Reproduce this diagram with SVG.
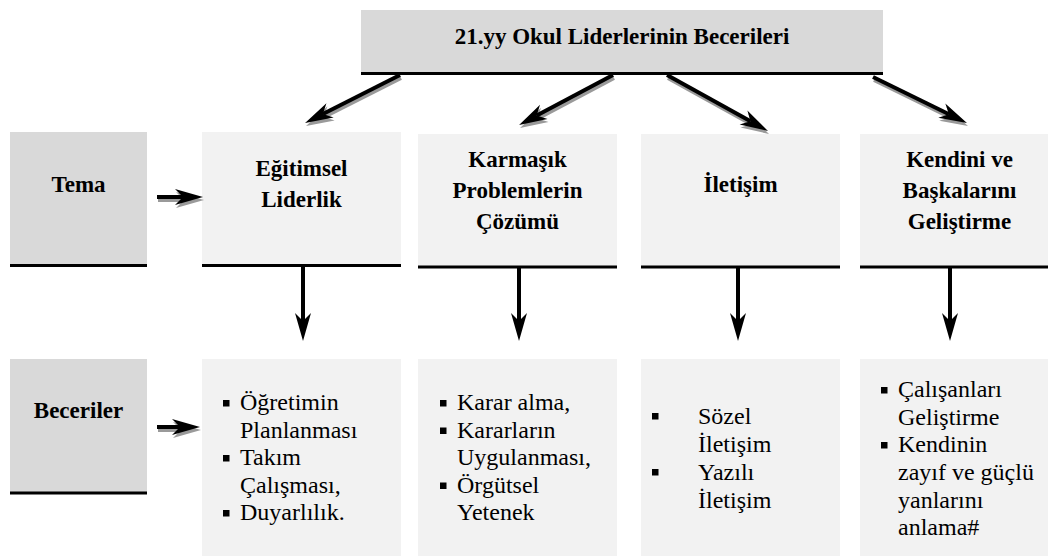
<svg xmlns="http://www.w3.org/2000/svg" width="1048" height="556" viewBox="0 0 1048 556">
  <defs>
    <style>
      .dark { fill: #d9d9d9; }
      .light { fill: #f2f2f2; }
      .rule { stroke: #000; stroke-width: 3; }
      .txt { font-family: "Liberation Serif", "Times New Roman", serif; }
      .head { font-weight: bold; font-size: 23px; fill: #000; text-anchor: middle; }
      .item { font-size: 24px; fill: #000; }
      .shaft { stroke: #000; stroke-width: 4; fill: none; marker-end: url(#tip); }
      .shadow { stroke: #9a9a9a; stroke-width: 4; fill: none; marker-end: url(#tipShadow); }
    </style>
    <marker id="tip" markerUnits="userSpaceOnUse" markerWidth="28" markerHeight="16" refX="8" refY="8" orient="auto" overflow="visible">
      <path d="M0,0 L28,8 L0,16 L8,8 z" fill="#000"/>
    </marker>
    <marker id="tipShadow" markerUnits="userSpaceOnUse" markerWidth="28" markerHeight="16" refX="8" refY="8" orient="auto" overflow="visible">
      <path d="M0,0 L28,8 L0,16 L8,8 z" fill="#9a9a9a"/>
    </marker>
    <rect id="bullet" width="6.5" height="6.5" fill="#000"/>
  </defs>

  <rect width="1048" height="556" fill="#fff"/>

  <g class="txt">
  <!-- title -->
  <g id="title">
    <rect class="dark" x="361" y="10" width="522" height="63"/>
    <line class="rule" x1="361" y1="73.5" x2="883" y2="73.5"/>
    <text class="head" x="622" y="44" font-size="25">21.yy Okul Liderlerinin Becerileri</text>
  </g>

  <!-- row labels -->
  <g id="tema">
    <rect class="dark" x="10" y="132" width="137" height="133"/>
    <line class="rule" x1="10" y1="265.5" x2="147" y2="265.5"/>
    <text class="head" x="78.5" y="192">Tema</text>
  </g>
  <g id="beceriler">
    <rect class="dark" x="10" y="359" width="137" height="133"/>
    <line class="rule" x1="10" y1="493" x2="147" y2="493"/>
    <text class="head" x="78.5" y="418" font-size="21">Beceriler</text>
  </g>

  <!-- theme boxes -->
  <g id="egitimsel">
    <rect class="light" x="202" y="132" width="199" height="133"/>
    <line class="rule" x1="202" y1="265.5" x2="401" y2="265.5"/>
    <text class="head" x="301.5" y="176">Eğitimsel</text>
    <text class="head" x="301.5" y="207">Liderlik</text>
  </g>
  <g id="karmasik">
    <rect class="light" x="418" y="134" width="199" height="133"/>
    <line class="rule" x1="418" y1="267" x2="617" y2="267"/>
    <text class="head" x="517.5" y="167">Karmaşık</text>
    <text class="head" x="517.5" y="198">Problemlerin</text>
    <text class="head" x="517.5" y="229">Çözümü</text>
  </g>
  <g id="iletisim">
    <rect class="light" x="641" y="134" width="199" height="133"/>
    <line class="rule" x1="641" y1="267" x2="840" y2="267"/>
    <text class="head" x="740.5" y="192">İletişim</text>
  </g>
  <g id="kendini">
    <rect class="light" x="860" y="134" width="199" height="133"/>
    <line class="rule" x1="860" y1="267" x2="1059" y2="267"/>
    <text class="head" x="959.5" y="167">Kendini ve</text>
    <text class="head" x="959.5" y="198">Başkalarını</text>
    <text class="head" x="959.5" y="229">Geliştirme</text>
  </g>

  <!-- skill boxes -->
  <g id="egitimsel-beceri">
    <rect class="light" x="202" y="359" width="199" height="200"/>
    <use href="#bullet" x="223" y="400"/>
    <use href="#bullet" x="223" y="455"/>
    <use href="#bullet" x="223" y="510"/>
    <text class="item" x="240" y="410">Öğretimin</text>
    <text class="item" x="240" y="437.5">Planlanması</text>
    <text class="item" x="240" y="465">Takım</text>
    <text class="item" x="240" y="492.5">Çalışması,</text>
    <text class="item" x="240" y="520">Duyarlılık.</text>
  </g>
  <g id="karmasik-beceri">
    <rect class="light" x="418" y="359" width="199" height="200"/>
    <use href="#bullet" x="440" y="400"/>
    <use href="#bullet" x="440" y="427.5"/>
    <use href="#bullet" x="440" y="482.5"/>
    <text class="item" x="457" y="410">Karar alma,</text>
    <text class="item" x="457" y="437.5">Kararların</text>
    <text class="item" x="457" y="465">Uygulanması,</text>
    <text class="item" x="457" y="492.5">Örgütsel</text>
    <text class="item" x="457" y="520">Yetenek</text>
  </g>
  <g id="iletisim-beceri">
    <rect class="light" x="641" y="359" width="199" height="200"/>
    <use href="#bullet" x="652" y="413"/>
    <use href="#bullet" x="652" y="469"/>
    <text class="item" x="698" y="424">Sözel</text>
    <text class="item" x="698" y="452">İletişim</text>
    <text class="item" x="698" y="480">Yazılı</text>
    <text class="item" x="698" y="508">İletişim</text>
  </g>
  <g id="kendini-beceri">
    <rect class="light" x="860" y="359" width="199" height="200"/>
    <use href="#bullet" x="881" y="387"/>
    <use href="#bullet" x="881" y="442"/>
    <text class="item" x="898" y="397">Çalışanları</text>
    <text class="item" x="898" y="424.5">Geliştirme</text>
    <text class="item" x="898" y="452">Kendinin</text>
    <text class="item" x="898" y="480">zayıf ve güçlü</text>
    <text class="item" x="898" y="507.5">yanlarını</text>
    <text class="item" x="898" y="535">anlama#</text>
  </g>
  </g>

  <!-- connectors: gray drop shadow under each black arrow -->
  <g id="connectors">
    <g transform="translate(1,3)">
      <line class="shadow" x1="400" y1="75" x2="322.9" y2="114"/>
      <line class="shadow" x1="613" y1="75" x2="536.7" y2="115.6"/>
      <line class="shadow" x1="667" y1="75" x2="750.5" y2="121.3"/>
      <line class="shadow" x1="873" y1="77" x2="949" y2="114.2"/>
      <line class="shadow" x1="157" y1="197" x2="183" y2="197"/>
      <line class="shadow" x1="157" y1="427" x2="180" y2="427"/>
    </g>
    <line class="shaft" x1="400" y1="75" x2="322.9" y2="114"/>
    <line class="shaft" x1="613" y1="75" x2="536.7" y2="115.6"/>
    <line class="shaft" x1="667" y1="75" x2="750.5" y2="121.3"/>
    <line class="shaft" x1="873" y1="77" x2="949" y2="114.2"/>
    <line class="shaft" x1="157" y1="197" x2="183" y2="197"/>
    <line class="shaft" x1="157" y1="427" x2="180" y2="427"/>
    <line class="shaft" x1="303" y1="266" x2="303" y2="321"/>
    <line class="shaft" x1="519" y1="266" x2="519" y2="321"/>
    <line class="shaft" x1="738" y1="266" x2="738" y2="321"/>
    <line class="shaft" x1="950" y1="266" x2="950" y2="321"/>
  </g>
</svg>
